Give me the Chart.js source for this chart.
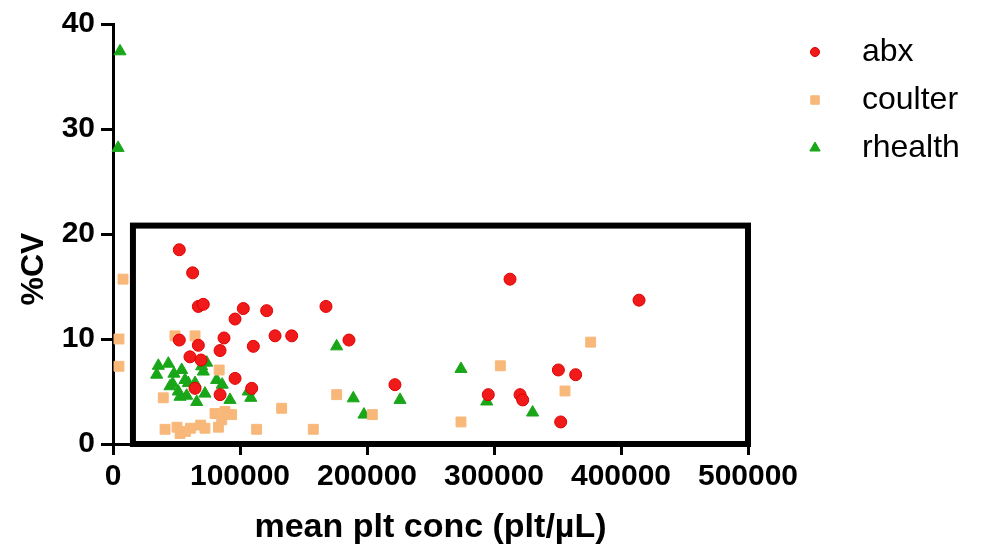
<!DOCTYPE html>
<html>
<head>
<meta charset="utf-8">
<script src="https://cdn.jsdelivr.net/npm/chart.js@4.4.1/dist/chart.umd.min.js"></script>
<style>
  html, body { margin: 0; padding: 0; background: #fff; }
  #wrap { width: 981px; height: 550px; }
</style>
</head>
<body>
<div id="wrap"><canvas id="chart" width="981" height="550"></canvas></div>
<script>
// Data (x = mean plt conc in plt/uL, y = %CV)
const abxX = [52200, 62700, 67200, 71100, 102600, 96100, 121000, 127600, 140700, 87400,
  52200, 67200, 110500, 84300, 60600, 69300, 96100, 109200, 64600, 84300,
  167700, 185800, 222000, 295500, 312600, 414200, 350700, 364300, 320500, 322600, 352500];
const abxY = [18.5, 16.3, 13.1, 13.3, 12.9, 11.9, 12.7, 10.3, 10.3, 10.1,
  9.9, 9.4, 9.3, 8.9, 8.3, 8.0, 6.25, 5.3, 5.3, 4.7,
  13.1, 9.9, 5.65, 4.7, 15.7, 13.7, 7.05, 6.6, 4.7, 4.2, 2.1];

const coulterX = [7900, 4700, 4700, 48800, 64600, 83600, 39600, 41000, 52800, 50400,
  61000, 69000, 72400, 80300, 88200, 93400, 85600, 83000, 113100, 132800,
  176100, 157700, 204200, 274000, 305000, 376100, 355900, 57000];
const coulterY = [15.7, 10.0, 7.4, 10.3, 10.3, 7.05, 4.4, 1.4, 1.0, 1.6,
  1.5, 1.8, 1.5, 2.9, 3.1, 2.8, 2.3, 1.6, 1.4, 3.4,
  4.7, 1.4, 2.8, 2.1, 7.45, 9.7, 5.05, 1.2];

const rhealthX = [5500, 4000, 35700, 43600, 34400, 48000, 54100, 47000, 56700, 59300,
  64600, 44900, 52800, 51400, 65900, 72400, 69800, 73800, 71100, 81600,
  86000, 92100, 106500, 108500, 58000, 176100, 189200, 197600, 226000, 274000,
  294300, 330400];
const rhealthY = [37.4, 28.2, 7.45, 7.65, 6.6, 6.7, 7.05, 5.75, 6.1, 5.8,
  5.8, 5.5, 4.5, 5.0, 4.0, 4.8, 7.4, 7.75, 6.9, 6.1,
  5.65, 4.2, 5.0, 4.4, 4.6, 9.3, 4.35, 2.8, 4.2, 7.15,
  4.05, 3.0];

const xTicks = [0, 100000, 200000, 300000, 400000, 500000];
const yTicks = [0, 10, 20, 30, 40];

// highlighted region drawn as a box
const boxX = [15700, 500000];
const boxY = [0, 20.8];

const FONT = '"Liberation Sans", Arial, sans-serif';
const RED = '#f01a1a';
const ORANGE = '#f8b87a';
const GREEN = '#19a619';

function toPoints(xs, ys) {
  return xs.map((x, i) => ({ x: x, y: ys[i] }));
}

const series = [
  { label: 'abx', data: toPoints(abxX, abxY), pointStyle: 'circle', pointRadius: 6,
    backgroundColor: RED, borderColor: '#e00000' },
  { label: 'coulter', data: toPoints(coulterX, coulterY), pointStyle: 'rect', pointRadius: 7,
    backgroundColor: ORANGE, borderColor: ORANGE },
  { label: 'rhealth', data: toPoints(rhealthX, rhealthY), pointStyle: 'triangle', pointRadius: 7,
    backgroundColor: GREEN, borderColor: GREEN }
];

// box, legend and y title
const extras = {
  id: 'extras',
  beforeDatasetsDraw(chart) {
    const { ctx, scales: { x, y } } = chart;
    const x0 = x.getPixelForValue(boxX[0]);
    const x1 = x.getPixelForValue(boxX[1]);
    const y0 = y.getPixelForValue(boxY[1]);
    const y1 = y.getPixelForValue(boxY[0]);
    ctx.save();
    ctx.strokeStyle = '#000';
    ctx.lineWidth = 6;
    ctx.strokeRect(x0, y0, x1 - x0, y1 - y0);
    ctx.restore();
  },
  afterDraw(chart) {
    const ctx = chart.ctx;
    ctx.save();
    // legend
    const legX = 815, legText = 862, legY = [52, 100, 148];
    chart.data.datasets.forEach((ds, i) => {
      ctx.fillStyle = ds.backgroundColor;
      ctx.strokeStyle = ds.borderColor;
      Chart.helpers.drawPoint(ctx, { pointStyle: ds.pointStyle, radius: ds.pointStyle === 'circle' ? 4.5 : 6, borderWidth: 1 }, legX, legY[i]);
      ctx.fillStyle = '#000';
      ctx.font = '32px ' + FONT;
      ctx.textAlign = 'left';
      ctx.textBaseline = 'middle';
      ctx.fillText(ds.label, legText, legY[i]);
    });
    // y axis title
    ctx.translate(34, 269);
    ctx.rotate(-Math.PI / 2);
    ctx.font = 'bold 32px ' + FONT;
    ctx.textAlign = 'center';
    ctx.textBaseline = 'middle';
    ctx.fillText('%CV', 0, 0);
    ctx.restore();
  }
};

new Chart(document.getElementById('chart'), {
  type: 'scatter',
  data: {
    datasets: series.map(s => ({
      label: s.label,
      data: s.data,
      pointStyle: s.pointStyle,
      pointRadius: s.pointRadius,
      pointHoverRadius: s.pointRadius,
      backgroundColor: s.backgroundColor,
      borderColor: s.borderColor,
      borderWidth: 1,
      clip: false
    }))
  },
  options: {
    responsive: false,
    animation: false,
    devicePixelRatio: 1,
    layout: { padding: { left: 0, right: 233, top: 24, bottom: 0 } },
    plugins: {
      legend: { display: false },
      tooltip: { enabled: false }
    },
    scales: {
      x: {
        type: 'linear',
        min: 0,
        max: 500000,
        afterBuildTicks: (scale) => { scale.ticks = xTicks.map(v => ({ value: v })); },
        afterFit: (scale) => { scale.height = 106; },
        grid: { display: true, drawOnChartArea: false, drawTicks: true, tickLength: 11, color: '#000', lineWidth: 3 },
        border: { display: true, color: '#000', width: 3 },
        ticks: {
          color: '#000',
          padding: 4,
          maxRotation: 0,
          autoSkip: false,
          font: { family: FONT, size: 30, weight: 'bold' },
          callback: (v) => String(v)
        },
        title: {
          display: true,
          text: 'mean plt conc (plt/\u00b5L)',
          color: '#000',
          padding: { top: 0, bottom: 2 },
          font: { family: FONT, size: 34, weight: 'bold' }
        }
      },
      y: {
        type: 'linear',
        min: 0,
        max: 40,
        afterBuildTicks: (scale) => { scale.ticks = yTicks.map(v => ({ value: v })); },
        afterFit: (scale) => { scale.width = 113; },
        grid: { display: true, drawOnChartArea: false, drawTicks: true, tickLength: 12, color: '#000', lineWidth: 3 },
        border: { display: true, color: '#000', width: 3 },
        ticks: {
          color: '#000',
          padding: 6,
          autoSkip: false,
          font: { family: FONT, size: 30, weight: 'bold' }
        }
      }
    }
  },
  plugins: [extras]
});
</script>
</body>
</html>
